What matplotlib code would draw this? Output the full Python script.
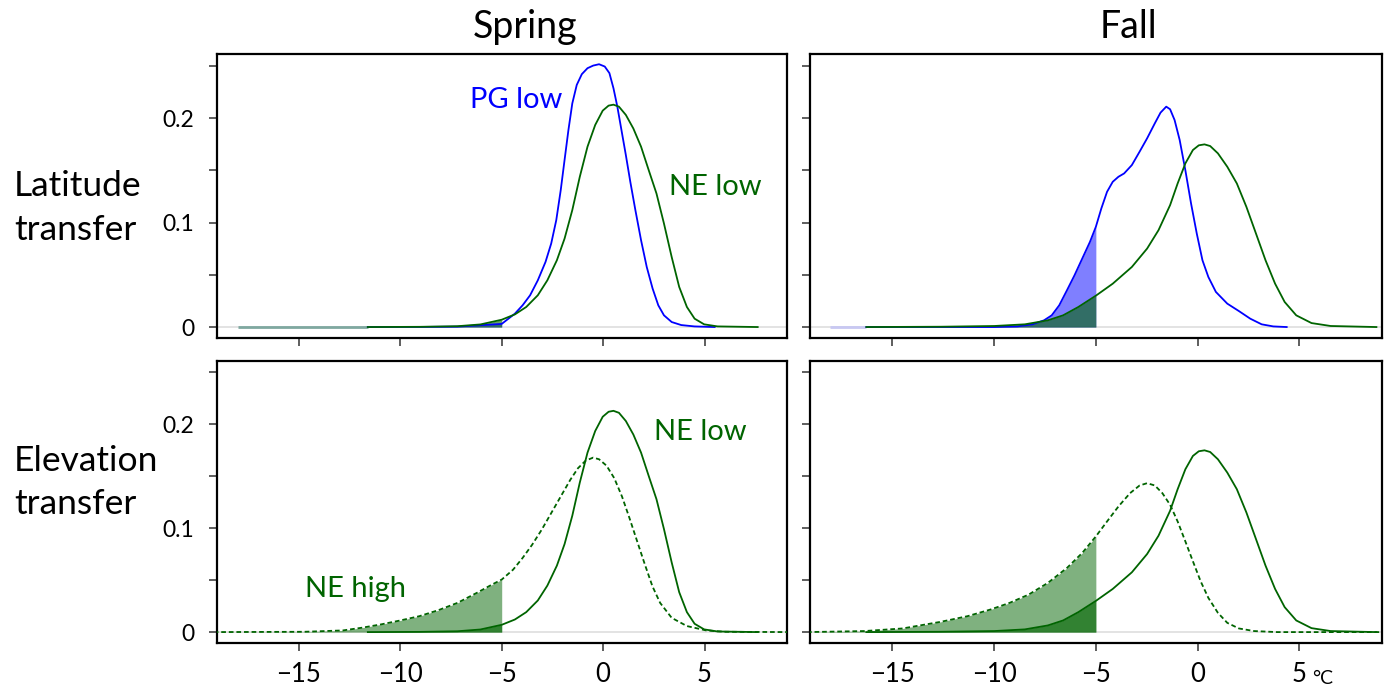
import matplotlib
matplotlib.use("Agg")
import matplotlib.pyplot as plt
from matplotlib.ticker import FixedLocator, NullFormatter, FixedFormatter
import matplotlib.transforms as mtrans
import numpy as np

plt.rcParams['font.family'] = ['Lato', 'DejaVu Sans']

# ---------------- data ----------------
# Spring, PG low (blue)
spring_pg_x = [-18.0, -11.6, -9.0, -7.2, -5.0, -4.35, -3.97, -3.6, -3.22, -2.84, -2.56, -2.31, -2.09,
               -1.9, -1.71, -1.52, -1.3, -1.05, -0.77, -0.49, -0.2, 0.08, 0.31, 0.51, 0.7, 0.89,
               1.12, 1.34, 1.59, 1.87, 2.15, 2.44, 2.72, 3.0, 3.38, 3.85, 4.5, 5.5]
spring_pg_y = [0.0, 0.0, 0.0001, 0.0004, 0.003, 0.0128, 0.0208, 0.0304, 0.0447, 0.0623, 0.0799, 0.1023, 0.131,
               0.16, 0.1886, 0.214, 0.2317, 0.242, 0.2477, 0.2502, 0.2515, 0.2493, 0.243, 0.2285, 0.211, 0.190,
               0.1646, 0.139, 0.1119, 0.0831, 0.0575, 0.0368, 0.0208, 0.0112, 0.0048, 0.0019, 0.0006, 0.0]
# Spring, NE low (green solid)
spring_nelow_x = [-11.6, -9.06, -7.18, -6.05, -5.0, -4.35, -3.79, -3.22, -2.75, -2.28, -1.9, -1.52, -1.15,
                  -0.77, -0.39, -0.02, 0.27, 0.51, 0.78, 1.12, 1.49, 1.87, 2.25, 2.63, 3.0, 3.38, 3.75,
                  4.13, 4.51, 4.98, 5.64, 7.62]
spring_nelow_y = [0.0, 0.0002, 0.0008, 0.0025, 0.007, 0.0121, 0.0192, 0.0304, 0.0447, 0.0639, 0.0847, 0.1119, 0.1438,
                  0.1726, 0.1934, 0.2071, 0.2119, 0.2128, 0.2109, 0.203, 0.190, 0.1726, 0.150, 0.1278, 0.099, 0.067, 0.0384,
                  0.0192, 0.008, 0.0026, 0.0006, 0.0]
# Spring, NE high (green dashed)
spring_nehigh_x = [-19.2, -14.72, -12.83, -11.89, -10.95, -10.0, -9.06, -8.12, -7.18, -6.23, -5.48, -5.0,
                   -4.44, -3.97, -3.5, -3.03, -2.56, -2.09, -1.62, -1.24, -0.86, -0.49, -0.2, 0.17, 0.55,
                   0.93, 1.3, 1.68, 2.06, 2.43, 2.81, 3.38, 4.13, 5.08, 6.02, 9.2]
spring_nehigh_y = [0.0, 0.0003, 0.0016, 0.0042, 0.0074, 0.0112, 0.0153, 0.0211, 0.0281, 0.0377, 0.0457, 0.0505,
                   0.060, 0.0713, 0.084, 0.0984, 0.1144, 0.1304, 0.1464, 0.1576, 0.1649, 0.1678, 0.1662, 0.160, 0.148,
                   0.1304, 0.1096, 0.0872, 0.0649, 0.0441, 0.0281, 0.0137, 0.0058, 0.0016, 0.0003, 0.0]

# Fall, PG low (blue)
fall_pg_x = [-18.07, -16.28, -9.99, -8.86, -8.11, -7.55, -7.17, -6.8, -6.42, -6.05, -5.67, -5.29, -5.0,
             -4.73, -4.45, -4.17, -3.89, -3.61, -3.23, -2.85, -2.48, -2.1, -1.82, -1.54, -1.35, -1.13,
             -0.88, -0.6, -0.32, -0.04, 0.24, 0.53, 0.9, 1.46, 2.03, 2.59, 3.15, 3.72, 4.38]
fall_pg_y = [0.0, 0.0, 0.0, 0.0006, 0.0026, 0.0064, 0.0112, 0.0208, 0.0352, 0.0495, 0.0655, 0.0815, 0.0959,
             0.1135, 0.1294, 0.139, 0.1438, 0.147, 0.155, 0.1678, 0.1806, 0.195, 0.2052, 0.2109, 0.2084, 0.1981,
             0.179, 0.150, 0.1182, 0.0895, 0.0639, 0.0479, 0.0336, 0.0224, 0.0153, 0.008, 0.0026, 0.0006, 0.0]
# Fall, NE low (green solid)
fall_nelow_x = [-16.28, -12.62, -9.99, -8.49, -7.36, -6.61, -5.86, -5.0, -4.17, -3.23, -2.48, -1.92, -1.35,
                -0.98, -0.6, -0.23, 0.06, 0.34, 0.62, 1.0, 1.46, 1.93, 2.4, 2.87, 3.34, 3.81, 4.28, 4.85,
                5.6, 6.54, 8.79]
fall_nelow_y = [0.0, 0.0003, 0.001, 0.0026, 0.0064, 0.0112, 0.0192, 0.030, 0.0415, 0.0575, 0.0751, 0.0927, 0.1167,
                0.1374, 0.1566, 0.1694, 0.1739, 0.1748, 0.1732, 0.1662, 0.1534, 0.1374, 0.115, 0.0895, 0.0639, 0.0415,
                0.024, 0.0112, 0.0038, 0.001, 0.0]
# Fall, NE high (green dashed)
fall_nehigh_x = [-19.2, -16.38, -14.5, -12.62, -11.31, -10.18, -9.24, -8.3, -7.36, -6.42, -5.67, -5.0,
                 -4.45, -3.89, -3.32, -2.85, -2.48, -2.1, -1.73, -1.35, -0.98, -0.6, -0.23, 0.15, 0.53,
                 1.0, 1.46, 2.03, 2.78, 3.91, 9.2]
fall_nehigh_y = [0.0, 0.001, 0.0035, 0.0099, 0.0153, 0.0217, 0.0281, 0.0361, 0.0473, 0.0617, 0.0761, 0.092,
                 0.1064, 0.1208, 0.1336, 0.141, 0.1432, 0.141, 0.1336, 0.1224, 0.1064, 0.0872, 0.0681, 0.0489, 0.0329,
                 0.0185, 0.0089, 0.0035, 0.001, 0.0, 0.0]

threshold = -5.0
seasons = ["Spring", "Fall"]
rows = [["Latitude", "transfer"], ["Elevation", "transfer"]]
y_ticks_all = [0, 0.05, 0.1, 0.15, 0.2, 0.25]
y_tick_labels = ["0", "", "0.1", "", "0.2", ""]
x_ticks = [-15, -10, -5, 0, 5]
x_tick_labels = ["\u221215", "\u221210", "\u22125", "0", "5"]

BLUE = "#0000ff"
GREEN = "#006400"

W, H = 1385, 691
fig = plt.figure(figsize=(W / 100, H / 100), dpi=100)

def px_axes(x0, y0, x1, y1):
    return fig.add_axes([x0 / W, 1 - y1 / H, (x1 - x0) / W, (y1 - y0) / H])

axes = {
    (0, 0): px_axes(216.7, 54.3, 786.7, 337.7),
    (0, 1): px_axes(810.0, 54.3, 1381.7, 337.7),
    (1, 0): px_axes(216.7, 360.7, 786.7, 642.7),
    (1, 1): px_axes(810.0, 360.7, 1381.7, 642.7),
}

XLIM = (-19.05, 9.05)
YLIM = (-0.0102, 0.261)

def tail_fill(ax, xs, ys, color, alpha):
    xs = np.asarray(xs); ys = np.asarray(ys)
    m = xs <= threshold + 1e-9
    ax.fill_between(xs[m], 0, ys[m], color=color, alpha=alpha, lw=0)

for (r, c), ax in axes.items():
    ax.set_xlim(*XLIM)
    ax.set_ylim(*YLIM)
    ax.axhline(0, color="#e3e3e3", lw=1.4, zorder=1)
    for s in ax.spines.values():
        s.set_linewidth(1.6)
    ax.yaxis.set_major_locator(FixedLocator(y_ticks_all))
    ax.xaxis.set_major_locator(FixedLocator(x_ticks))
    ax.tick_params(axis='both', length=6, width=1.1, color="#333333", direction='out')
    ax.tick_params(axis='y', pad=10, labelsize=16.5)
    ax.tick_params(axis='x', pad=8, labelsize=18.5)
    if c == 0:
        ax.yaxis.set_major_formatter(FixedFormatter(y_tick_labels))
    else:
        ax.yaxis.set_major_formatter(NullFormatter())
    if r == 1:
        ax.xaxis.set_major_formatter(FixedFormatter(x_tick_labels))
    else:
        ax.xaxis.set_major_formatter(NullFormatter())

LW = 1.3
DASH = (0, (2.6, 1.6))

# --- top-left: spring latitude
ax = axes[(0, 0)]
tail_fill(ax, spring_pg_x, spring_pg_y, BLUE, 0.5)
tail_fill(ax, spring_nelow_x, spring_nelow_y, GREEN, 0.6)
sx = np.array(spring_pg_x); sy = np.array(spring_pg_y)
g0 = spring_nelow_x[0]
ax.plot(sx[sx <= g0], sy[sx <= g0], color="#7fa8a0", lw=2.0, zorder=3, solid_capstyle='butt')
ax.plot(sx[sx >= g0], sy[sx >= g0], color=BLUE, lw=LW, zorder=3)
ax.plot(spring_nelow_x, spring_nelow_y, color=GREEN, lw=LW, zorder=4)
ax.text(-6.57, 0.2174, "PG low", color=BLUE, fontsize=21, va='center', ha='left')
ax.text(3.24, 0.134, "NE low", color=GREEN, fontsize=21, va='center', ha='left')

# --- top-right: fall latitude
ax = axes[(0, 1)]
tail_fill(ax, fall_pg_x, fall_pg_y, BLUE, 0.5)
tail_fill(ax, fall_nelow_x, fall_nelow_y, GREEN, 0.6)
fx = np.array(fall_pg_x); fy = np.array(fall_pg_y)
g0 = fall_nelow_x[0]
ax.plot(fx[fx <= g0], fy[fx <= g0], color="#c8c8f2", lw=2.0, zorder=3, solid_capstyle='butt')
ax.plot(fx[fx >= g0], fy[fx >= g0], color=BLUE, lw=LW, zorder=3)
ax.plot(fall_nelow_x, fall_nelow_y, color=GREEN, lw=LW, zorder=4)

# --- bottom-left: spring elevation
ax = axes[(1, 0)]
tail_fill(ax, spring_nehigh_x, spring_nehigh_y, GREEN, 0.5)
tail_fill(ax, spring_nelow_x, spring_nelow_y, GREEN, 0.6)
ax.plot(spring_nehigh_x, spring_nehigh_y, color=GREEN, lw=LW, ls=DASH, zorder=3)
ax.plot(spring_nelow_x, spring_nelow_y, color=GREEN, lw=LW, zorder=4)
ax.text(2.49, 0.1924, "NE low", color=GREEN, fontsize=21, va='center', ha='left')
ax.text(-14.7, 0.041, "NE high", color=GREEN, fontsize=21, va='center', ha='left')

# --- bottom-right: fall elevation
ax = axes[(1, 1)]
tail_fill(ax, fall_nehigh_x, fall_nehigh_y, GREEN, 0.5)
tail_fill(ax, fall_nelow_x, fall_nelow_y, GREEN, 0.6)
ax.plot(fall_nehigh_x, fall_nehigh_y, color=GREEN, lw=LW, ls=DASH, zorder=3)
ax.plot(fall_nelow_x, fall_nelow_y, color=GREEN, lw=LW, zorder=4)
trans = mtrans.blended_transform_factory(ax.transData, ax.transAxes)
ax.text(5.65, -0.128, "\u00b0C", transform=trans, fontsize=14, ha='left', va='center')

# --- titles and row labels
def ftext(x, y, s, **kw):
    fig.text(x / W, 1 - y / H, s, **kw)

ftext(525, 27, seasons[0], fontsize=27, ha='center', va='center')
ftext(1128, 27, seasons[1], fontsize=27, ha='center', va='center')
ftext(14, 186, rows[0][0], fontsize=25.5, ha='left', va='center')
ftext(14, 230, rows[0][1], fontsize=25.5, ha='left', va='center')
ftext(14, 461, rows[1][0], fontsize=25.5, ha='left', va='center')
ftext(14, 504, rows[1][1], fontsize=25.5, ha='left', va='center')

fig.savefig("out.png", dpi=100)
